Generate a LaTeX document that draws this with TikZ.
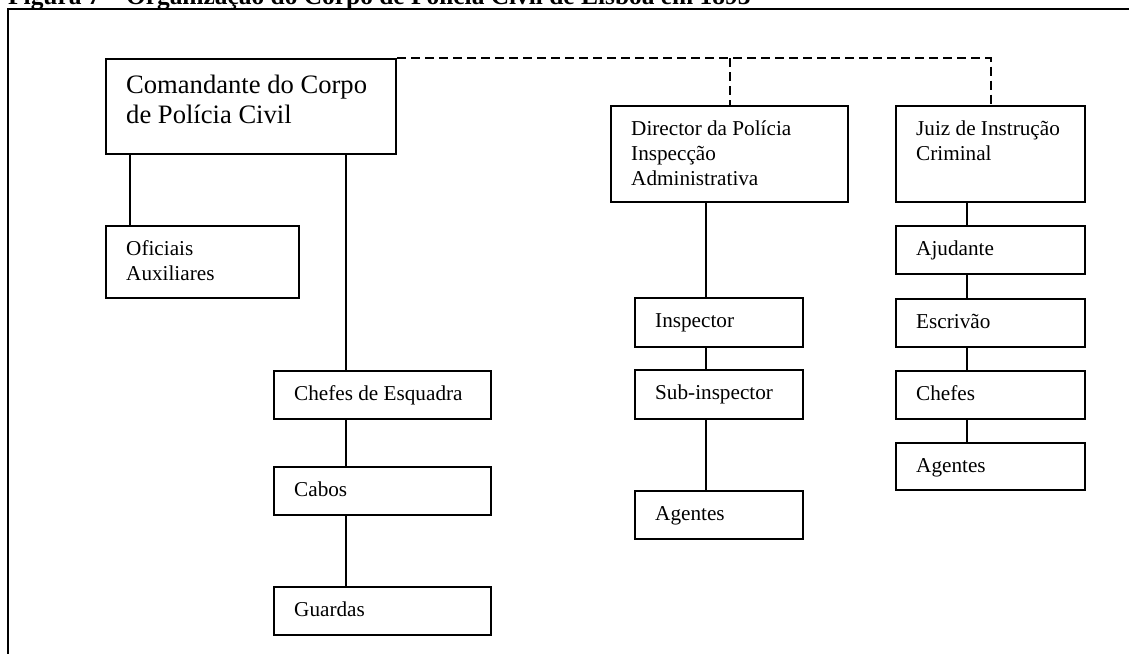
\documentclass[tikz,border=0pt]{standalone}
\usepackage{fontspec}
\setmainfont{Liberation Serif}
\usetikzlibrary{calc}
\tikzset{
  orgbox/.style={draw, line width=2pt, inner sep=0pt, anchor=north west},
  boxtext/.style={anchor=base west, inner sep=0pt, font=\fontsize{21.2}{25}\selectfont},
  bigtext/.style={anchor=base west, inner sep=0pt, font=\fontsize{26.6}{30}\selectfont},
  link/.style={line width=2pt},
  dashlink/.style={line width=2pt, dash pattern=on 9pt off 5pt},
  frameline/.style={line width=2pt}
}
\newcommand\orgnode[6]{%
  \node[orgbox, minimum width=#4pt, minimum height=#5pt] (#1) at (#2,#3) {};
  \node[boxtext] (#1t) at ($(#1.north west)+(21,30)$) {\begin{tabular}[t]{@{}l@{}}#6\end{tabular}};
}
\begin{document}
\begin{tikzpicture}[x=1pt,y=-1pt]
\useasboundingbox (0,0) rectangle (1129,653);
\clip (0,0) rectangle (1129,653);
% title (cut off at the top, as in the reference)
\node[anchor=base west, inner sep=0pt, font=\bfseries\fontsize{25.4}{30}\selectfont] (title) at (8,4.5)
  {Figura 7 – Organização do Corpo de Polícia Civil de Lisboa em 1893};
% frame
\draw[frameline] (8.3,9) rectangle (1300,800);
% boxes
\node[orgbox, minimum width=290pt, minimum height=95pt] (com) at (105,58) {};
\node[bigtext] (comt) at ($(com.north west)+(21,35)$)
  {\begin{tabular}[t]{@{}l@{}}Comandante do Corpo\\de Polícia Civil\end{tabular}};
\orgnode{ofi}{105}{225}{193}{72}{Oficiais\\Auxiliares}
\orgnode{chefes}{273}{370}{217}{48}{Chefes de Esquadra}
\orgnode{cabos}{273}{466}{217}{48}{Cabos}
\orgnode{guardas}{273}{586}{217}{48}{Guardas}
\orgnode{dir}{610}{105}{237}{96}{Director da Polícia\\Inspecção\\Administrativa}
\orgnode{insp}{634}{297}{168}{49}{Inspector}
\orgnode{sub}{634}{369}{168}{49}{Sub-inspector}
\orgnode{agd}{634}{490}{168}{48}{Agentes}
\orgnode{juiz}{895}{105}{189}{96}{Juiz de Instrução\\Criminal}
\orgnode{aju}{895}{225}{189}{48}{Ajudante}
\orgnode{esc}{895}{298}{189}{48}{Escrivão}
\orgnode{chj}{895}{370}{189}{48}{Chefes}
\orgnode{agj}{895}{442}{189}{47}{Agentes}
% columns of the connectors
\coordinate (c1) at (130,0);
\coordinate (c2) at (346,0);
\coordinate (c3) at (706,0);
\coordinate (c4) at (967,0);
% solid connectors
\draw[link] (com.south -| c1) -- (ofi.north -| c1);
\draw[link] (com.south -| c2) -- (chefes.north -| c2);
\draw[link] (chefes.south -| c2) -- (cabos.north -| c2);
\draw[link] (cabos.south -| c2) -- (guardas.north -| c2);
\draw[link] (dir.south -| c3) -- (insp.north -| c3);
\draw[link] (insp.south -| c3) -- (sub.north -| c3);
\draw[link] (sub.south -| c3) -- (agd.north -| c3);
\draw[link] (juiz.south -| c4) -- (aju.north -| c4);
\draw[link] (aju.south -| c4) -- (esc.north -| c4);
\draw[link] (esc.south -| c4) -- (chj.north -| c4);
\draw[link] (chj.south -| c4) -- (agj.north -| c4);
% dashed connectors
\draw[dashlink] (com.north east) -| (juiz.north);
\draw[dashlink] (dir.north |- com.north) -- (dir.north);
\end{tikzpicture}
\end{document}
